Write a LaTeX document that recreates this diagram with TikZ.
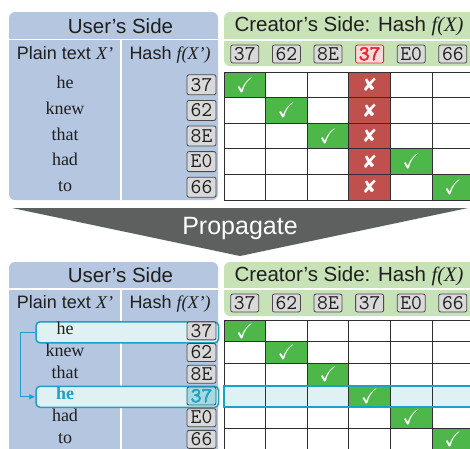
\documentclass[tikz,border=0pt]{standalone}
\usepackage{fontspec}
\setmainfont{Liberation Serif}
\setsansfont{Liberation Sans}
\newfontfamily\hashfont{Latin Modern Mono}
\newfontfamily\hashbold{Latin Modern Mono}[FakeBold=2.5]
\newfontfamily\dejavu{DejaVu Sans}
\usepackage{amssymb}
\usetikzlibrary{arrows.meta}
\definecolor{userblue}{HTML}{B4C6E0}
\definecolor{creatorgreen}{HTML}{C6E2B6}
\definecolor{okgreen}{HTML}{4DB749}
\definecolor{badred}{HTML}{C0504D}
\definecolor{hashfill}{HTML}{D9D9D9}
\definecolor{hashline}{HTML}{4A4A4A}
\definecolor{hashred}{HTML}{E8262E}
\definecolor{hashredfill}{HTML}{FADADB}
\definecolor{cyanline}{HTML}{1E9FC4}
\definecolor{cyanfill}{HTML}{DFF1F2}
\definecolor{cyanhashfill}{HTML}{A6DAE0}
\definecolor{arrowgray}{HTML}{5E5F5F}
\definecolor{textcol}{HTML}{1F1F1F}
\definecolor{gridcol}{HTML}{2F2F2F}
\tikzset{
  panelbg/.style={rounded corners=6pt},
  sepline/.style={white, line width=1.6pt},
  titletext/.style={font=\fontsize{20.5}{20.5}\selectfont\sffamily, text=textcol, inner sep=0pt},
  headtext/.style={font=\fontsize{18}{18}\selectfont\sffamily, text=textcol, inner sep=0pt, text height=13pt, text depth=4pt},
  word/.style={font=\fontsize{18}{18}\selectfont\rmfamily, text=textcol, inner sep=0pt, text height=12pt, text depth=4pt},
  hlword/.style={word, font=\fontsize{18}{18}\selectfont\rmfamily\bfseries, text=cyanline},
  hashbox/.style={draw=hashline, fill=hashfill, rounded corners=2pt, line width=0.8pt,
     font=\fontsize{21}{21}\selectfont\hashfont, text=textcol, minimum width=28pt,
     minimum height=18pt, inner sep=0pt, text height=12.5pt, text depth=0pt},
  redhash/.style={hashbox, draw=hashred, fill=hashredfill, text=hashred,
     font=\fontsize{21}{21}\selectfont\hashbold},
  cyanhash/.style={hashbox, draw=cyanline!60!black, fill=cyanhashfill, text=cyanline,
     font=\fontsize{21}{21}\selectfont\hashbold},
  checkmk/.style={text=white, font=\fontsize{21}{21}\selectfont, inner sep=0pt},
  crossmk/.style={text=white, font=\fontsize{18}{18}\selectfont\dejavu, inner sep=0pt},
  gridline/.style={draw=gridcol, line width=0.9pt},
  hlbox/.style={draw=cyanline, fill=cyanfill, line width=1.5pt, rounded corners=4pt, inner sep=0pt},
  hlrow/.style={draw=cyanline, line width=1.8pt},
  proptext/.style={font=\fontsize{25}{25}\selectfont\sffamily, text=white, inner sep=0pt},
  linkarrow/.style={draw=cyanline, line width=1.3pt, -{Latex[length=6pt,width=6pt]}}
}
\begin{document}
\begin{tikzpicture}[x=1pt,y=-1pt]
\useasboundingbox (0,0) rectangle (470,448);
\clip (0,0) rectangle (470,448);
% ================= TOP PANEL =================
\fill[userblue, panelbg] (9,12) rectangle (218,200);
\draw[sepline] (9,39.5) -- (218,39.5);
\draw[sepline] (121,39.5) -- (121,200);
\node[titletext] (ut) at (120.5,26) {User’s Side};
\node[headtext] (uh1) at (65,55) {Plain text {\rmfamily\itshape X’}};
\node[headtext] (uh2) at (170,55) {Hash {\rmfamily\itshape f(X’)}};
\foreach \w/\h/\r in {he/37/0, knew/62/1, that/8E/2, had/E0/3, to/66/4} {
  \pgfmathsetmacro\yy{72+25.6*(\r+0.5)}
  \node[word] (tw\r) at (65,\yy) {\w};
  \node[hashbox, minimum height=20pt, minimum width=29pt] (th\r) at (201.5,\yy) {\h};
}
\fill[creatorgreen, panelbg] (224,12) rectangle (495,66);
\draw[sepline] (224,40) -- (495,40);
\node[titletext] (ct) at (349,26) {Creator’s Side: Hash {\rmfamily\itshape f(X)}};
\foreach \h/\c in {37/0, 62/1, 8E/2, E0/4, 66/5} {
  \node[hashbox] (tc\c) at ({224+41.6*(\c+0.5)},54) {\h};
}
\node[redhash] (tc3) at ({224+41.6*3.5},54) {37};
% grid
\fill[badred] (348.8,72) rectangle (390.4,200);
\foreach \r/\c in {0/0,1/1,2/2,3/4,4/5} {
  \fill[okgreen] ({224+41.6*\c},{72+25.6*\r}) rectangle ++(41.6,25.6);
  \node[checkmk] (tk\r) at ({224+41.6*(\c+0.5)},{72+25.6*(\r+0.5)}) {$\checkmark$};
}
\foreach \r in {0,...,4} {
  \node[crossmk] (tx\r) at (369.6,{72+25.6*(\r+0.5)}) {✘};
}
\foreach \c in {0,...,6} { \draw[gridline] ({224+41.6*\c},72) -- ({224+41.6*\c},200); }
\foreach \r in {0,...,5} { \draw[gridline] (224,{72+25.6*\r}) -- (480,{72+25.6*\r}); }
% ================= PROPAGATE =================
\fill[arrowgray] (12,208) -- (468,208) -- (240,256) -- cycle;
\node[proptext] (prop) at (240,228.5) {Propagate};
% ================= BOTTOM PANEL =================
\fill[userblue, panelbg] (9,262) rectangle (218,470);
\draw[sepline] (9,289) -- (218,289);
\draw[sepline] (121,289) -- (121,470);
\node[titletext] (bt) at (120.5,275.5) {User’s Side};
\node[headtext] (bh1) at (65,304) {Plain text {\rmfamily\itshape X’}};
\node[headtext] (bh2) at (170,304) {Hash {\rmfamily\itshape f(X’)}};
\node[hlbox, minimum width=182.5pt, minimum height=21pt] (hl1) at (127.25,332.3) {};
\node[hlbox, minimum width=182.5pt, minimum height=21pt] (hl2) at (127.25,396.8) {};
\draw[linkarrow] (hl1.west) -- ++(-15,0) |- (hl2.west);
\foreach \w/\h/\r in {he/37/0, knew/62/1, that/8E/2, had/E0/4, to/66/5} {
  \pgfmathsetmacro\yy{320+21.7*(\r+0.5)}
  \node[word] (bw\r) at (65,\yy) {\w};
  \node[hashbox, minimum height=18pt, minimum width=29pt] (bhh\r) at (201.5,\yy) {\h};
}
\node[hlword] (bw3) at (65,{320+21.7*3.5}) {he};
\node[cyanhash, minimum height=18pt, minimum width=29pt] (bhh3) at (201.5,{320+21.7*3.5}) {37};
\fill[creatorgreen, panelbg] (224,262) rectangle (495,316);
\draw[sepline] (224,289) -- (495,289);
\node[titletext] (bct) at (349,276) {Creator’s Side: Hash {\rmfamily\itshape f(X)}};
\foreach \h/\c in {37/0, 62/1, 8E/2, 37/3, E0/4, 66/5} {
  \node[hashbox] (bc\c) at ({224+41.6*(\c+0.5)},303) {\h};
}
% grid
\fill[cyanfill] (224,385.1) rectangle (480,406.8);
\foreach \r in {0,...,5} {
  \fill[okgreen] ({224+41.6*\r},{320+21.7*\r}) rectangle ++(41.6,21.7);
  \node[checkmk] (bk\r) at ({224+41.6*(\r+0.5)},{320+21.7*(\r+0.5)}) {$\checkmark$};
}
\foreach \c in {0,...,6} { \draw[gridline] ({224+41.6*\c},320) -- ({224+41.6*\c},455); }
\foreach \r in {0,...,6} { \draw[gridline] (224,{320+21.7*\r}) -- (480,{320+21.7*\r}); }
\draw[hlrow] (224,385.6) rectangle (490,407);
\end{tikzpicture}
\end{document}
